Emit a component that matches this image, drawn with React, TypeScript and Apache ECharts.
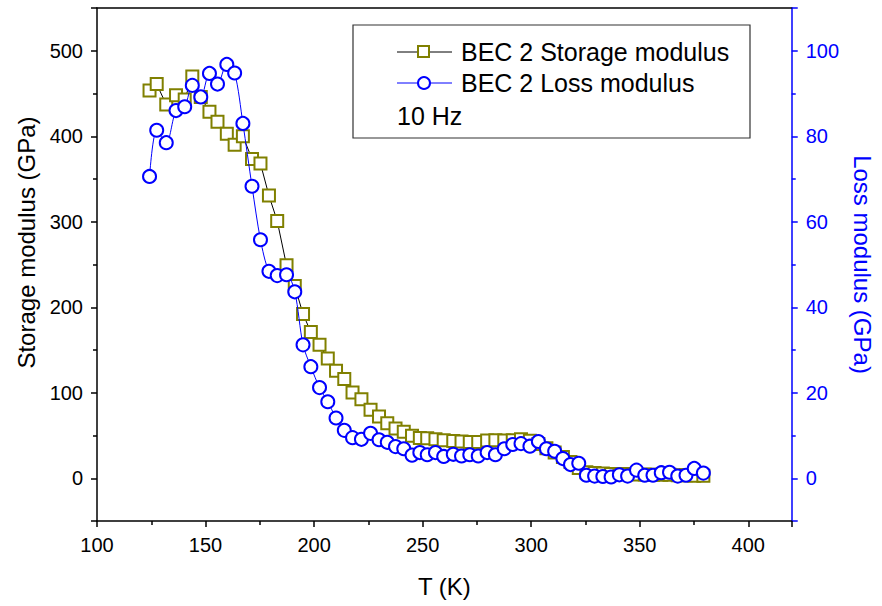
import React, { useEffect, useRef } from "react";
import * as echarts from "echarts";

const temperatures = [124.2,127.5,131.9,136.4,140.4,143.9,147.8,151.8,155.5,159.8,163.4,167.2,171.4,175.3,179.2,183.0,187.3,191.1,194.9,198.5,202.5,206.3,210.1,213.9,217.7,221.8,226.0,229.9,233.7,237.5,241.3,245.1,248.7,252.1,255.9,259.7,264.1,267.9,271.7,275.6,279.7,283.5,287.6,291.5,295.3,299.4,303.3,307.0,310.8,314.6,318.1,321.9,325.4,329.2,333.0,336.8,340.6,344.4,348.5,352.3,356.1,359.9,363.7,367.5,371.3,375.1,379.3];

const storageModulus = [453.5,461,437,448,443,470,446,428.6,417,403,390,400,373.5,368,330.6,301,249,225,192,171,156,140,125.6,116,100.3,92.5,80,72.2,64.4,58.2,54.3,49.6,47.2,46.8,45.7,44.5,43.7,43.0,42.5,42.5,44.1,44.5,44.1,44.5,45.7,44,40,35,30,25,19,12,7,6,5.5,5,5,5,4.5,4.5,4,4,4,3.5,3.5,3,3];

const lossModulus = [70.6,81.4,78.5,86.0,86.9,91.9,89.2,94.7,92.2,96.8,94.8,83.0,68.3,55.8,48.4,47.4,47.6,43.6,31.2,26.1,21.2,17.9,14.1,11.2,9.5,9.1,10.5,9.0,8.4,7.4,6.9,5.4,6.0,5.5,6.0,5.1,5.6,5.2,5.5,5.2,6.0,5.5,6.9,7.9,8.1,7.5,8.6,6.9,6.3,4.6,3.2,3.5,0.7,0.5,0.4,0.3,0.8,0.5,1.9,0.7,0.7,1.3,1.4,0.5,0.7,2.3,1.2];

const seriesNames = ["BEC 2 Storage modulus", "BEC 2 Loss modulus"];
const noteText = "10 Hz";

const FONT = "Liberation Sans, Arial, sans-serif";
const OLIVE = "#808000";
const BLUE = "#0000ff";

export default function App() {
  const ref = useRef<HTMLDivElement>(null);
  useEffect(() => {
    document.body.style.margin = "0";
    if (!ref.current) return;
    const chart = echarts.init(ref.current, undefined, { renderer: "svg" });
    const storageData = temperatures.map((t, i) => [t, storageModulus[i]]);
    const lossData = temperatures.map((t, i) => [t, lossModulus[i]]);
    chart.setOption({
      animation: false,
      backgroundColor: "#ffffff",
      textStyle: { fontFamily: FONT },
      grid: { left: 97, right: 83, top: 8, bottom: 85, containLabel: false },
      xAxis: [
        {
          type: "value",
          min: 100,
          max: 420,
          interval: 50,
          position: "bottom",
          name: "T (K)",
          nameLocation: "middle",
          nameGap: 53,
          nameTextStyle: { fontSize: 24, color: "#000", fontFamily: FONT },
          axisLine: { show: true, onZero: false, lineStyle: { color: "#000", width: 1.5 } },
          axisTick: { show: true, length: 6, lineStyle: { color: "#000", width: 1.5 } },
          minorTick: { show: true, splitNumber: 2, length: 4, lineStyle: { color: "#000", width: 1.5 } },
          axisLabel: {
            fontSize: 20,
            color: "#000",
            margin: 14,
            fontFamily: FONT,
            formatter: (v: number) => (v % 50 === 0 && v <= 400 ? String(v) : ""),
          },
          splitLine: { show: false },
        },
        {
          type: "value",
          min: 100,
          max: 420,
          position: "top",
          axisLine: { show: true, onZero: false, lineStyle: { color: "#000", width: 1.5 } },
          axisTick: { show: false },
          axisLabel: { show: false },
          splitLine: { show: false },
        },
      ],
      yAxis: [
        {
          type: "value",
          min: -50,
          max: 550,
          splitNumber: 6,
          position: "left",
          name: "Storage modulus (GPa)",
          nameLocation: "middle",
          nameGap: 55,
          nameTextStyle: { fontSize: 24, color: "#000", fontFamily: FONT, padding: [0, 0, 0, 44] },
          axisLine: { show: true, onZero: false, lineStyle: { color: "#000", width: 1.5 } },
          axisTick: { show: true, length: 6, lineStyle: { color: "#000", width: 1.5 } },
          minorTick: { show: true, splitNumber: 2, length: 4, lineStyle: { color: "#000", width: 1.5 } },
          axisLabel: {
            fontSize: 20,
            color: "#000",
            margin: 14,
            fontFamily: FONT,
            formatter: (v: number) => (v % 100 === 0 ? String(v) : ""),
          },
          splitLine: { show: false },
        },
        {
          type: "value",
          min: -10,
          max: 110,
          splitNumber: 6,
          position: "right",
          name: "Loss modulus (GPa)",
          nameLocation: "middle",
          nameRotate: -90,
          nameGap: 57,
          nameTextStyle: { fontSize: 24, color: BLUE, fontFamily: FONT },
          axisLine: { show: true, onZero: false, lineStyle: { color: BLUE, width: 1.5 } },
          axisTick: { show: true, length: 6, lineStyle: { color: BLUE, width: 1.5 } },
          minorTick: { show: true, splitNumber: 2, length: 4, lineStyle: { color: BLUE, width: 1.5 } },
          axisLabel: {
            fontSize: 20,
            color: BLUE,
            margin: 14,
            fontFamily: FONT,
            formatter: (v: number) => (v % 20 === 0 ? String(v) : ""),
          },
          splitLine: { show: false },
        },
      ],
      series: [
        {
          name: seriesNames[0],
          type: "line",
          xAxisIndex: 0,
          yAxisIndex: 0,
          data: storageData,
          symbol: "rect",
          symbolSize: 12,
          showAllSymbol: true,
          lineStyle: { color: "#000", width: 1 },
          itemStyle: { color: "#fff", borderColor: OLIVE, borderWidth: 2 },
          z: 2,
        },
        {
          name: seriesNames[1],
          type: "line",
          xAxisIndex: 0,
          yAxisIndex: 1,
          data: lossData,
          smooth: 0.3,
          symbol: "circle",
          symbolSize: 13,
          showAllSymbol: true,
          lineStyle: { color: BLUE, width: 1 },
          itemStyle: { color: "#fff", borderColor: BLUE, borderWidth: 2 },
          z: 3,
        },
      ],
      graphic: [
        {
          type: "rect",
          shape: { x: 353, y: 25, width: 397, height: 113 },
          style: { fill: "#fff", stroke: "#333", lineWidth: 1.2 },
          z: 10,
        },
        { type: "line", shape: { x1: 397, y1: 52, x2: 452, y2: 52 }, style: { stroke: "#000", lineWidth: 1 }, z: 11 },
        { type: "rect", shape: { x: 418, y: 46, width: 11, height: 11 }, style: { fill: "#fff", stroke: OLIVE, lineWidth: 2 }, z: 12 },
        {
          type: "text",
          x: 461,
          y: 52,
          style: { text: seriesNames[0], font: `25px ${FONT}`, fill: "#000", verticalAlign: "middle" },
          z: 12,
        },
        { type: "line", shape: { x1: 397, y1: 83, x2: 452, y2: 83 }, style: { stroke: BLUE, lineWidth: 1 }, z: 11 },
        { type: "circle", shape: { cx: 424, cy: 83, r: 6 }, style: { fill: "#fff", stroke: BLUE, lineWidth: 2 }, z: 12 },
        {
          type: "text",
          x: 461,
          y: 83,
          style: { text: seriesNames[1], font: `25px ${FONT}`, fill: "#000", verticalAlign: "middle" },
          z: 12,
        },
        {
          type: "text",
          x: 397,
          y: 116,
          style: { text: noteText, font: `25px ${FONT}`, fill: "#000", verticalAlign: "middle" },
          z: 12,
        },
      ],
    });
    return () => chart.dispose();
  }, []);
  return <div ref={ref} style={{ width: 882, height: 606 }} />;
}
